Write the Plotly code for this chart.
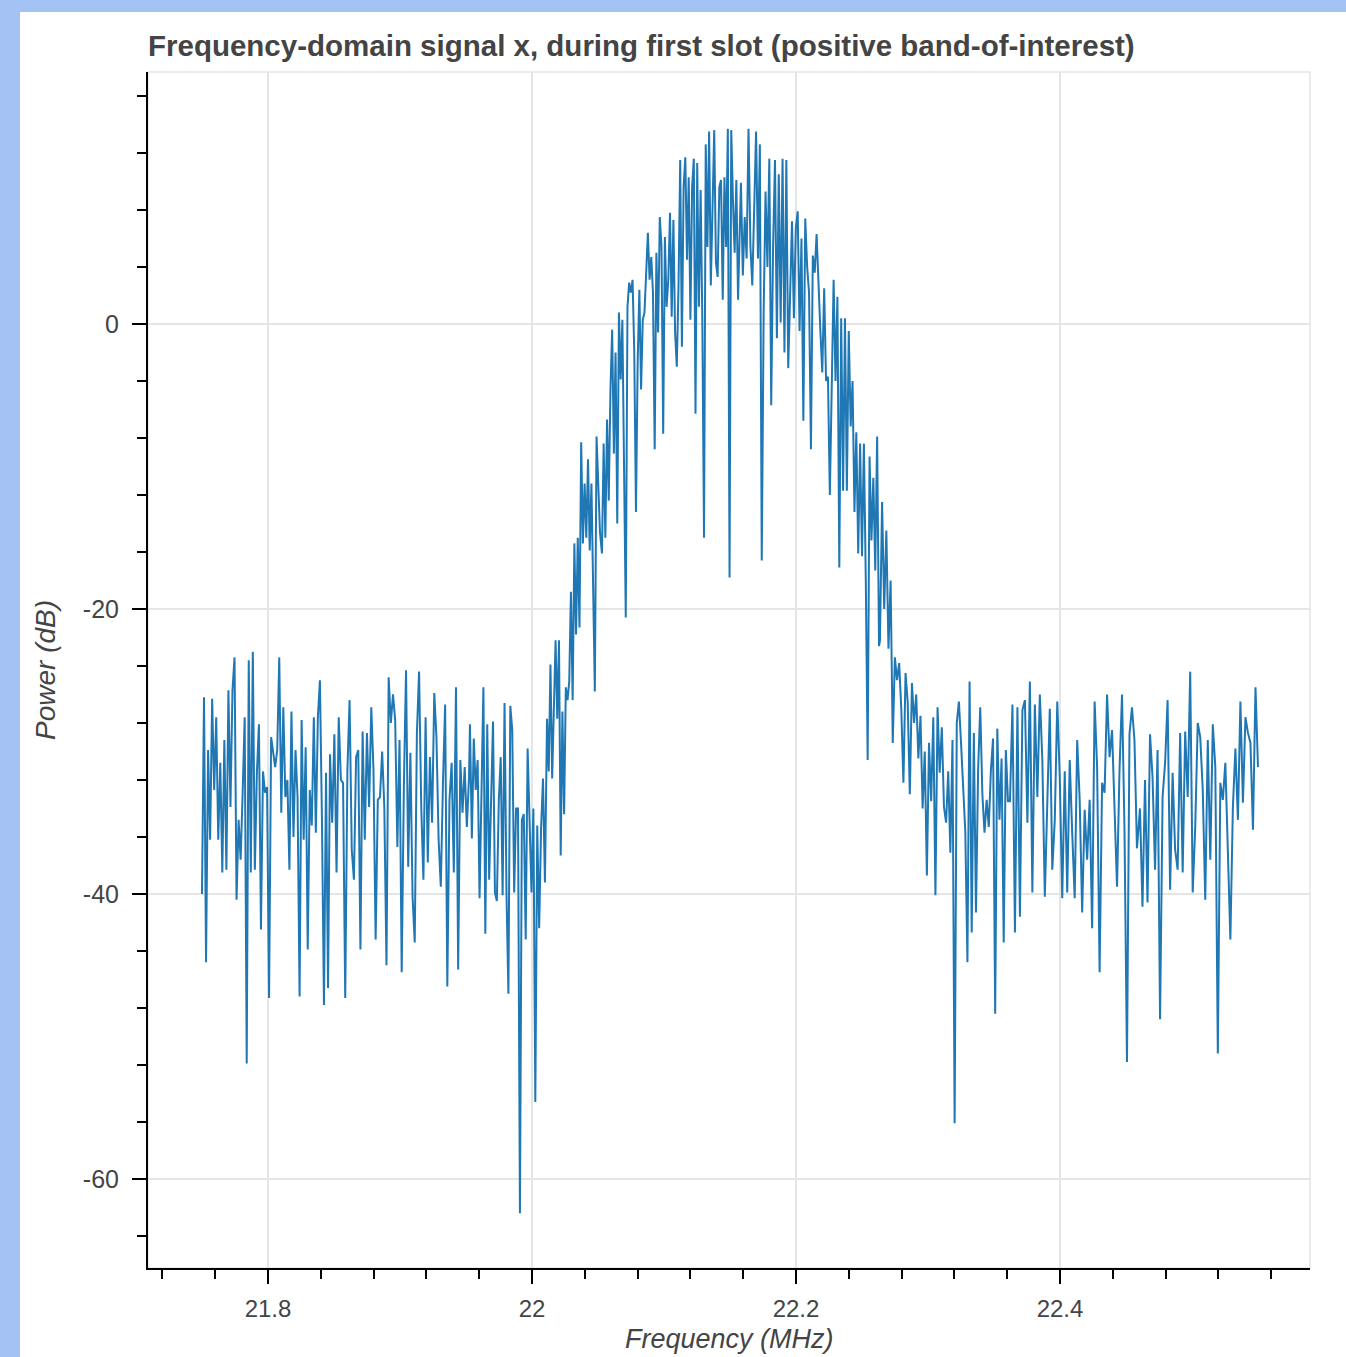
import numpy as np
import plotly.graph_objects as go

# ---- Data (power in dB, in frequency order) ----
power_db_left_noise_a = [-40.0, -26.2, -44.8, -29.9, -36.2, -26.3, -32.7, -27.6, -36.2, -30.8, -38.5, -29.2, -38.3, -25.7,
                         -33.9, -25.7, -23.4, -40.4, -34.8, -37.6, -32.9, -27.6, -51.9, -23.6, -38.5, -23.0, -38.3, -31.5,
                         -28.1, -42.5, -31.4, -32.9, -32.5, -47.3, -29.0, -30.1, -31.1, -29.9, -23.4, -34.3, -26.9, -33.2,
                         -32.0, -38.3, -27.2, -36.0, -29.9, -33.2, -47.2, -27.8, -36.2, -29.7, -43.9, -32.7, -35.2, -27.6,
                         -35.7, -27.6, -25.0, -34.8, -47.8, -31.5, -46.6]
power_db_left_noise_b = [-30.2, -35.0, -28.8, -38.5, -27.6, -32.0, -32.2, -47.3, -31.3, -26.4, -36.9, -39.0, -30.4, -29.9,
                         -43.9, -28.6, -36.2, -28.7, -33.9, -26.9, -31.3, -43.2, -33.4, -33.2, -30.0, -33.9, -45.0, -24.8,
                         -28.0, -26.0, -27.8, -36.7, -29.2, -45.5, -32.5, -24.3, -38.1, -30.1, -40.2, -43.4, -28.7, -24.4,
                         -33.9, -39.0, -27.6, -37.8, -30.4, -35.0, -25.9, -29.0, -36.2, -39.5, -32.2, -26.7, -46.5, -33.4,
                         -30.8, -38.5, -25.5, -45.3, -30.6, -34.3, -31.1, -35.3, -31.8]
power_db_left_edge = [-28.1, -36.1, -29.1, -32.7, -30.6, -40.3, -31.9, -25.5, -42.8, -28.1, -39.0, -33.1, -27.9, -39.9,
                      -40.5, -33.5, -30.4, -40.1, -26.6, -39.9, -47.0, -26.8, -28.5, -39.9, -34.0, -34.0, -62.4, -34.8,
                      -34.4, -43.2, -29.8, -34.8, -39.9, -34.0, -54.6, -35.2, -42.4, -35.4, -31.9, -39.2]
power_db_rise = [-27.7, -31.4, -23.9, -31.9, -26.4, -22.2, -27.7, -22.2, -37.3, -27.2, -34.4, -25.5, -26.4, -25.1, -18.8,
                 -26.4, -15.4, -21.8, -15.0, -21.3, -8.3, -15.4, -11.2, -15.0, -9.5, -15.9, -11.2, -20.5, -25.8, -7.9,
                 -12.1, -14.6]
power_db_lobe_a = [-16.1, -8.4, -15.0, -6.7, -12.4, -4.6, -0.4, -9.1, -2.0, -14.0, 0.8, -3.9, 0.3, -12.6, -20.6, 1.2, 2.9,
                   2.2, 3.1, -2.0, -13.2, -2.7, 2.4, -4.6, 0.3, 0.8, 4.3, 6.4, 3.1, 4.7, 2.2, -8.8, 5.0, -0.6, 7.5, 5.4,
                   -7.7, 6.1, 1.2, 3.1, 7.8, 0.5, 7.3, -0.6, -3.0, 2.6, 11.5, -1.6, 9.6, 11.7, 4.5, 10.3, 0.3, 9.6, 11.6,
                   -6.3, 11.3, 1.2, 9.4, 0.3, -15.0, 12.6, 5.4, 13.5, 2.7, 7.3, 13.6, 4.3, 3.3, 9.6, 10.1, 1.7, 10.3, 5.4,
                   13.7, -17.8, 13.6, 8.7, 5.0, 10.1, 1.7]
power_db_lobe_b = [9.9, 3.4, 7.5, 4.6, 13.7, 5.5, 2.7, 8.4, 13.5, 4.6, 12.6, -16.6, 0.7, 9.3, 4.0, 11.6, -5.7, 5.5, 11.5,
                   -1.0, 10.5, 0.1, 11.6, -2.0, 11.5, -3.1, 3.1, 7.2, 0.4, 6.7, 7.9, -0.5, 6.0, -6.8, 7.4, 4.0, 2.2, -8.8,
                   4.8, 3.6, 6.3, 2.2, -0.5, -3.4, 2.5, -4.0, -3.7, -12.0, -2.8, 3.1, -4.0, 1.9, -17.1, 0.4, -11.7, 0.4,
                   -11.7, -0.5, -7.2, -4.0, -13.2, -7.6, -16.1, -8.4, -16.3, -8.4, -17.9, -30.6, -9.3, -15.2, -10.8,
                   -17.3, -7.9, -22.6]
power_db_fall = [-22.2, -12.5, -20.0, -14.5, -22.8, -18.0, -29.4, -23.4, -25.0, -23.8, -27.0, -32.2, -24.5, -26.5, -33.0,
                 -25.2, -28.0, -26.0, -30.5, -27.5, -34.0, -30.0, -38.7, -29.4, -33.5, -27.6, -40.1, -26.9, -31.5, -28.3,
                 -33.9, -35.0, -31.4, -37.1, -29.2, -56.1, -28.0, -26.5, -29.4, -32.5, -35.6, -44.8, -25.1, -42.7, -28.7,
                 -41.3, -31.3, -26.9, -33.0, -35.7, -33.4, -35.3, -31.3, -29.1, -48.4, -28.4, -34.8, -30.5, -43.4, -29.9,
                 -33.5]
power_db_right_noise_a = [-33.5, -26.7, -42.7, -26.9, -41.6, -27.1, -26.4, -35.0, -25.1, -39.9, -26.7, -33.2, -26.0, -30.6,
                          -40.2, -33.9, -27.0, -38.3, -34.8, -26.5, -31.8, -40.3, -31.4, -39.9, -30.6, -35.7, -40.3, -29.2,
                          -33.4, -41.3, -34.1, -37.6, -33.4, -42.4, -26.5, -31.1, -45.5, -32.2, -32.9, -26.0, -30.4, -28.5,
                          -33.4, -39.5, -31.3, -26.0, -35.5, -51.8, -28.8, -26.9, -29.2, -36.8]
power_db_right_noise_b = [-34.0, -40.9, -32.0, -40.6, -28.8, -31.8, -38.3, -29.9, -48.8, -33.2, -30.8, -26.4, -39.7, -31.5,
                          -36.9, -38.3, -28.7, -38.5, -28.6, -33.2, -24.4, -39.9, -35.3, -28.0, -29.0, -32.7, -40.4, -29.2,
                          -37.6, -28.1, -31.1, -51.2, -32.2, -33.4, -30.8, -36.4, -43.2, -33.9, -29.8, -34.8, -26.5, -33.6,
                          -27.6, -28.7, -29.4, -35.5, -25.5, -31.1]

# frequency span (MHz) covered by each block of samples above
segment_spans_mhz = [(21.7500, 21.8455), (21.8470, 21.9523), (21.9530, 22.0098), (22.0114, 22.0515),
                     (22.0530, 22.1561), (22.1583, 22.2629), (22.2636, 22.3606), (22.3621, 22.4583),
                     (22.4606, 22.5500)]
segments = [power_db_left_noise_a, power_db_left_noise_b, power_db_left_edge, power_db_rise,
            power_db_lobe_a, power_db_lobe_b, power_db_fall, power_db_right_noise_a, power_db_right_noise_b]

x_tick_vals = [21.8, 22.0, 22.2, 22.4]
x_tick_text = ["21.8", "22", "22.2", "22.4"]
y_tick_vals = [0, -20, -40, -60]
y_tick_text = ["0", "-20", "-40", "-60"]

freq = []
power = []
for (f0, f1), vals in zip(segment_spans_mhz, segments):
    freq.extend(np.linspace(f0, f1, len(vals)).tolist())
    power.extend(vals)

FONT = "Liberation Sans, Arial, Helvetica, sans-serif"
TXT = "#444444"
GRID = "#e5e5e5"
BLUE = "#a4c2f4"

fig = go.Figure()
fig.add_trace(go.Scatter(x=freq, y=power, mode="lines",
                         line=dict(color="#1f77b4", width=2), showlegend=False))

fig.update_layout(
    width=1346, height=1357,
    margin=dict(l=148, r=36, t=72, b=89),
    paper_bgcolor="white", plot_bgcolor="white",
    title=dict(text="<b>Frequency-domain signal x, during first slot (positive band-of-interest)</b>",
               font=dict(family=FONT, size=29.5, color=TXT),
               x=0, xref="paper", xanchor="left", y=1 - 46 / 1357, yref="container", yanchor="middle"),
)

axis_common = dict(showline=True, linecolor="black", linewidth=2, ticks="outside", ticklen=14, tickwidth=2,
                   tickcolor="black", showgrid=True, gridcolor=GRID, gridwidth=1.5, zeroline=False,
                   tickmode="array")

fig.update_xaxes(range=[21.7091, 22.5894], tickvals=x_tick_vals, ticktext=x_tick_text,
                 ticklabelstandoff=4, tickfont=dict(family=FONT, size=24, color=TXT),
                 minor=dict(tickmode="linear", tick0=21.72, dtick=0.04, ticks="outside", ticklen=9,
                            tickwidth=2, tickcolor="black", showgrid=False),
                 **axis_common)
fig.update_yaxes(range=[-66.25, 17.68], tickvals=y_tick_vals, ticktext=y_tick_text,
                 ticklabelstandoff=8, tickfont=dict(family=FONT, size=25, color=TXT),
                 minor=dict(tickmode="linear", tick0=0, dtick=4, ticks="outside", ticklen=9,
                            tickwidth=2, tickcolor="black", showgrid=False),
                 **axis_common)

# axis titles
fig.add_annotation(text="Power (dB)", xref="paper", yref="paper", x=(45 - 148) / 1162, y=0.5,
                   textangle=-90, showarrow=False, xanchor="center", yanchor="middle",
                   font=dict(family=FONT, size=28, color=TXT, style="italic"))
fig.add_annotation(text="Frequency (MHz)", xref="paper", yref="paper", x=0.5, y=(1268 - 1339) / 1196,
                   showarrow=False, xanchor="center", yanchor="middle",
                   font=dict(family=FONT, size=27, color=TXT, style="italic"))

# plot outline (top/right light border) and the blue page frame
fig.add_shape(type="rect", xref="paper", yref="paper", x0=0, x1=1, y0=0, y1=1,
              line=dict(color=GRID, width=1.5), layer="below")
fig.add_shape(type="rect", xref="paper", yref="paper", x0=-0.14, x1=(20 - 148) / 1162, y0=-0.1, y1=1.1,
              line=dict(width=0), fillcolor=BLUE, layer="above")
fig.add_shape(type="rect", xref="paper", yref="paper", x0=-0.14, x1=1.05, y0=(1268 - 12) / 1196, y1=1.1,
              line=dict(width=0), fillcolor=BLUE, layer="above")

fig.write_html("out.html", config={"displayModeBar": False},
               post_script="document.body.style.margin='0';document.body.style.overflow='hidden';")
